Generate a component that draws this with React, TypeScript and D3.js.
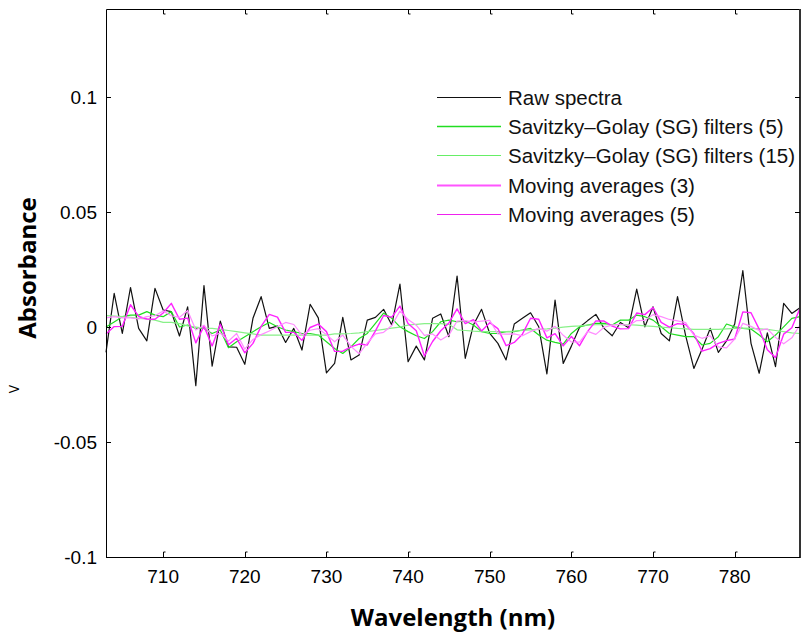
import React, { useEffect, useRef } from 'react'
import * as d3 from 'd3'

// wavelength grid, 1 nm steps
const wavelengths = d3.range(703, 789)

const rawSpectra = [
  -0.011, 0.0146, -0.0028, 0.0172, -0.0006, -0.006, 0.0168, 0.0074, 0.0067, -0.0039,
  0.0088, -0.0255, 0.018, -0.017, 0.0026, -0.0086, -0.0088, -0.0162, 0.0038, 0.0132,
  -0.0006, 0.0004, -0.0067, -0.0006, -0.01, 0.0099, 0.004, -0.0199, -0.0158, 0.0042,
  -0.0143, -0.0122, 0.003, 0.0042, 0.0077, 0.0009, 0.0187, -0.0151, -0.0083, -0.0143,
  0.0038, 0.0057, -0.0042, 0.0222, -0.0136, 0.0009, 0.0077, -0.0028, -0.0071, -0.0143,
  0.0013, 0.0038, 0.0062, 0.0001, -0.0204, 0.0117, -0.0158, -0.0083, -0.0001, 0.0028,
  0.0055, -0.0006, -0.0038, 0.002, -0.0003, 0.0165, 0.0001, 0.0088, -0.0028, -0.006,
  0.0132, -0.0038, -0.018, -0.0097, -0.0006, -0.011, -0.006, 0.0013, 0.0245, -0.0071,
  -0.0201, -0.0025, -0.0172, 0.0103, 0.0059, 0.0084,
]

const sg5 = [
  0, 0.0022, 0.0045, 0.0052, 0.0052, 0.0067, 0.0052, 0.0045, 0.0067, 0.0,
  0.0009, -0.0006, -0.0006, -0.0028, -0.0013, -0.009, -0.0064, -0.0042, -0.002, 0.0001,
  0.002, 0.0001, -0.0013, -0.002, -0.0028, -0.0028, -0.0035, -0.0064, -0.0093, -0.0115,
  -0.0086, -0.005, -0.0028, 0.0016, 0.006, 0.0038, 0.0001, -0.002, -0.0038, -0.005,
  -0.002, 0.0023, 0.003, 0.0023, 0.0026, 0.0009, -0.002, -0.0028, -0.0028, -0.002,
  -0.002, -0.0013, -0.0006, -0.0035, -0.0057, -0.0067, -0.0074, -0.0028, 0.0001, 0.0009,
  0.0016, 0.0016, 0.0009, 0.003, 0.003, 0.0052, 0.0045, 0.003, 0.0001, -0.0028,
  -0.0035, -0.0042, -0.0042, -0.0078, -0.0071, -0.0042, 0.0013, 0.0001, -0.0006, -0.0009,
  -0.0035, -0.0064, -0.0035, 0.0001, 0.0038, 0.0045,
]

const sg15 = [
  0.005, 0.0048, 0.0045, 0.0042, 0.0038, 0.0035, 0.003, 0.002, 0.002, 0.0015,
  0.0005, 0, -0.0005, -0.0006, -0.001, -0.0015, -0.002, -0.0025, -0.003, -0.0035,
  -0.0035, -0.0035, -0.0035, -0.0035, -0.0035, -0.0035, -0.0035, -0.0035, -0.003, -0.003,
  -0.0028, -0.0025, -0.002, -0.0015, -0.001, -0.0005, 0, 0.0008, 0.0012, 0.0015,
  0.0015, 0.0015, 0.0012, -0.0012, -0.0015, -0.0018, -0.002, -0.002, -0.002, -0.002,
  -0.0018, -0.0015, -0.0012, -0.001, -0.0008, -0.0005, 0, 0.0003, 0.0005, 0.0008,
  0.001, 0.001, 0.001, 0.001, 0.001, 0.0008, 0.0005, 0.0003, 0, -0.0003,
  -0.0006, -0.0008, -0.001, -0.001, -0.001, -0.001, -0.0008, -0.0006, -0.0005, -0.0006,
  -0.0008, -0.001, -0.0015, -0.002, -0.0025, -0.0028,
]

const ma3 = [
  -0.003, 0.0002, 0.0003, 0.0097, 0.0046, 0.0035, 0.0034, 0.0061, 0.0103, 0.0034,
  0.0039, -0.0069, 0.0004, -0.0082, 0.0012, -0.0077, -0.0049, -0.0112, -0.0071, 0.0003,
  0.0055, 0.0043, -0.0023, -0.0023, -0.0058, -0.0002, 0.0013, -0.002, -0.0106, -0.0105,
  -0.0086, -0.0074, -0.0078, -0.0017, 0.005, 0.0043, 0.0091, 0.0015, -0.0016, -0.0126,
  -0.0063, -0.0016, 0.0018, 0.0079, 0.0015, 0.0032, -0.0017, 0.0019, -0.0007, -0.0081,
  -0.0067, -0.0031, 0.0038, 0.0034, -0.0047, -0.0029, -0.0082, -0.0041, -0.0081, -0.0019,
  0.0027, 0.0026, 0.0004, -0.0008, -0.0007, 0.0061, 0.0054, 0.0085, 0.002, 0,
  0.0015, 0.0011, -0.0029, -0.0105, -0.0094, -0.0071, -0.0059, -0.0052, 0.0066, 0.0062,
  -0.0009, -0.0099, -0.0133, -0.0031, -0.0003, 0.0082,
]

const ma5 = [
  0.004, 0.0045, 0.004, 0.004, 0.0035, 0.0045, 0.0049, 0.007, 0.0049, 0.0042,
  0.0072, -0.0013, 0.0008, -0.0039, -0.0026, -0.0061, -0.0028, -0.0096, -0.0054, -0.0033,
  -0.0017, 0.0001, 0.002, 0.0011, -0.0035, -0.0014, -0.0007, -0.0033, -0.0064, -0.0035,
  -0.0084, -0.0116, -0.007, -0.003, -0.0023, 0.0007, 0.0069, 0.0033, 0.0008, -0.0036,
  -0.003, -0.0056, -0.0035, 0.0026, 0.0028, 0.0022, 0.0026, 0.0029, -0.003, -0.0031,
  -0.003, -0.0038, -0.002, -0.0006, -0.0018, 0.0003, -0.0036, -0.0065, -0.0066, -0.0019,
  -0.0032, -0.0001, 0.0008, 0.0012, 0.0006, 0.0028, 0.0029, 0.0054, 0.0045, 0.0033,
  0.0027, 0.0019, -0.0035, -0.0049, -0.0038, -0.0086, -0.0091, -0.0052, 0.0016, 0.0003,
  -0.0015, -0.0008, -0.0045, -0.0073, -0.0047, 0.001,
]

const seriesNames = [
  'Raw spectra',
  'Savitzky–Golay (SG) filters (5)',
  'Savitzky–Golay (SG) filters (15)',
  'Moving averages (3)',
  'Moving averages (5)',
]
const xTicks = [710, 720, 730, 740, 750, 760, 770, 780]
const yTicks = [-0.1, -0.05, 0, 0.05, 0.1]

const App = () => {
  const svgRef = useRef(null)

  const width = 811
  const height = 633
  const plot = { left: 106, right: 800, top: 9, bottom: 557 }
  const font = '"Liberation Sans", Arial, sans-serif'

  useEffect(() => {
    const svg = d3.select(svgRef.current)
    svg.selectAll('*').remove()

    const xScale = d3.scaleLinear().domain([703, 788]).range([plot.left, plot.right])
    const yScale = d3.scaleLinear().domain([-0.1, 0.1383]).range([plot.bottom, plot.top])

    const series = [
      { name: seriesNames[0], values: rawSpectra, color: '#111111', lc: '#111111', w: 1.2, lw: 1 },
      { name: seriesNames[1], values: sg5, color: '#22dd22', lc: '#22dd22', w: 1.2, lw: 1.5 },
      { name: seriesNames[2], values: sg15, color: '#88f088', lc: '#66ee66', w: 1.2, lw: 1 },
      { name: seriesNames[3], values: ma3, color: '#ff22ff', lc: '#ff55ff', w: 1.4, lw: 2 },
      { name: seriesNames[4], values: ma5, color: '#ff8cff', lc: '#ee22ee', w: 1.2, lw: 1 },
    ]

    const line = d3
      .line()
      .x((d) => xScale(d[0]))
      .y((d) => yScale(d[1]))

    const lines = svg.append('g')
    series.forEach((s) => {
      lines
        .append('path')
        .datum(wavelengths.map((w, i) => [w, s.values[i]]))
        .attr('d', line)
        .attr('fill', 'none')
        .attr('stroke', s.color)
        .attr('stroke-width', s.w)
        .attr('stroke-linejoin', 'round')
    })

    // box
    const box = svg.append('g')
    box
      .append('path')
      .attr('d', `M${plot.right},${plot.top + 0.5}H${plot.left + 0.5}V${plot.bottom + 0.5}H${plot.right}`)
      .attr('fill', 'none')
      .attr('stroke', '#000')
      .attr('stroke-width', 1)
    box
      .append('line')
      .attr('x1', plot.right)
      .attr('x2', plot.right)
      .attr('y1', plot.top)
      .attr('y2', plot.bottom + 1)
      .attr('stroke', '#333')
      .attr('stroke-width', 2)

    // inward ticks
    const tickLen = 5
    xTicks.forEach((t) => {
      const x = Math.round(xScale(t)) + 0.5
      box
        .append('path')
        .attr('d', `M${x},${plot.bottom}V${plot.bottom - tickLen}h2`)
        .attr('fill', 'none')
        .attr('stroke', '#000')
      box
        .append('path')
        .attr('d', `M${x},${plot.top}V${plot.top + tickLen}h2`)
        .attr('fill', 'none')
        .attr('stroke', '#000')
      svg
        .append('text')
        .attr('x', xScale(t))
        .attr('y', 583)
        .attr('text-anchor', 'middle')
        .attr('font-family', font)
        .attr('font-size', 19)
        .text(t)
    })
    yTicks.forEach((t) => {
      const y = Math.round(yScale(t)) + 0.5
      box
        .append('line')
        .attr('x1', plot.left)
        .attr('x2', plot.left + tickLen)
        .attr('y1', y)
        .attr('y2', y)
        .attr('stroke', '#000')
      box
        .append('line')
        .attr('x1', plot.right)
        .attr('x2', plot.right - tickLen)
        .attr('y1', y)
        .attr('y2', y)
        .attr('stroke', '#000')
      svg
        .append('text')
        .attr('x', 97)
        .attr('y', yScale(t) + 7)
        .attr('text-anchor', 'end')
        .attr('font-family', font)
        .attr('font-size', 19)
        .text(d3.format('~g')(t).replace('−', '-'))
    })

    // legend
    const legend = svg.append('g')
    series.forEach((s, i) => {
      const y = Math.round(105 + i * 29.2)
      legend
        .append('line')
        .attr('x1', 437)
        .attr('x2', 501)
        .attr('y1', y - 7.5)
        .attr('y2', y - 7.5)
        .attr('stroke', s.lc)
        .attr('stroke-width', s.lw)
      legend
        .append('text')
        .attr('x', 508)
        .attr('y', y)
        .attr('font-family', font)
        .attr('font-size', 20.5)
        .attr('fill', '#111')
        .text(s.name)
    })

    // axis titles
    svg
      .append('text')
      .attr('x', (plot.left + plot.right) / 2)
      .attr('y', 626)
      .attr('text-anchor', 'middle')
      .attr('font-family', '"Open Sans", sans-serif')
      .attr('font-weight', 700)
      .attr('font-size', 24)
      .text('Wavelength (nm)')
    svg
      .append('text')
      .attr('transform', 'translate(36, 268) rotate(-90)')
      .attr('text-anchor', 'middle')
      .attr('font-family', '"Open Sans", sans-serif')
      .attr('font-weight', 700)
      .attr('font-size', 24)
      .text('Absorbance')
    // small leftover glyph near the left edge
    svg
      .append('text')
      .attr('transform', 'translate(19, 389) rotate(-90)')
      .attr('text-anchor', 'middle')
      .attr('font-family', '"Open Sans", sans-serif')
      .attr('font-size', 14)
      .text('V')
  }, [])

  return (
    <svg
      ref={svgRef}
      width={width}
      height={height}
      style={{ position: 'absolute', left: 0, top: 0, background: '#fff' }}
    />
  )
}

export default App
